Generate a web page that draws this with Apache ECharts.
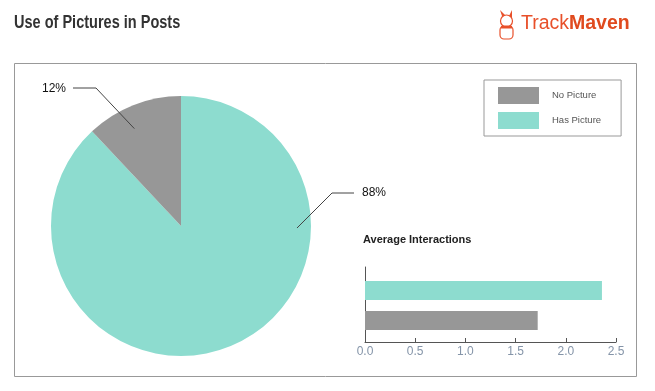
<!DOCTYPE html>
<html><head><meta charset="utf-8">
<script src="https://cdn.jsdelivr.net/npm/echarts@6/dist/echarts.min.js"></script>
<style>html,body{margin:0;padding:0;background:#fff}#c{width:655px;height:391px}</style>
</head><body><div id="c"></div>
<script>
const chartTitle = 'Use of Pictures in Posts';
const pieNames = ['Has Picture', 'No Picture'];
const pieValues = [88, 12];
const legendNames = ['No Picture', 'Has Picture'];
const barTitle = 'Average Interactions';
const barCategories = ['No Picture', 'Has Picture'];
const barValues = [1.72, 2.36];
const xTickLabels = ['0.0', '0.5', '1.0', '1.5', '2.0', '2.5'];

const GRAY = '#979797', TEAL = '#8ddccf';
const colorOf = { 'No Picture': GRAY, 'Has Picture': TEAL };
const chart = echarts.init(document.getElementById('c'), null, { renderer: 'canvas' });

const C = [181, 226], R = 130;
function polar(angDeg, d) { const a = angDeg * Math.PI / 180; return [C[0] + d * Math.cos(a), C[1] - d * Math.sin(a)]; }
const total = pieValues.reduce((a, b) => a + b, 0);
const pct = n => Math.round(pieValues[pieNames.indexOf(n)] / total * 100) + '%';
const pNo = polar(115.6, 108), pHas = polar(-1, 116);
const lineStyle = { stroke: '#444', lineWidth: 1, fill: null };
const tickMin = parseFloat(xTickLabels[0]), tickMax = parseFloat(xTickLabels[xTickLabels.length - 1]);
const tickStep = parseFloat(xTickLabels[1]) - tickMin;

const ORANGE = '#e8502a';
const graphic = [
  { type: 'rect', shape: { x: 14.5, y: 63.5, width: 622, height: 313 }, style: { fill: null, stroke: '#999', lineWidth: 1 }, silent: true },
  { type: 'text', x: 14, y: 23, scaleX: 0.83, z: 100, style: { text: chartTitle, font: 'bold 17.5px "Liberation Sans", sans-serif', fill: '#333', textVerticalAlign: 'middle' } },
  { type: 'text', left: 363, top: 234, style: { text: barTitle, font: 'bold 11px "Liberation Sans", sans-serif', fill: '#222' } },
  // logo
  { type: 'text', x: 521, y: 24, style: { text: '{a|Track}{b|Maven}', textVerticalAlign: 'middle', rich: { a: { font: '19.5px "Liberation Sans", sans-serif', fill: ORANGE }, b: { font: 'bold 19.5px "Liberation Sans", sans-serif', fill: '#e04a1e' } } } },
  { type: 'polygon', shape: { points: [[500, 10], [503, 19], [506, 16]] }, style: { fill: ORANGE } },
  { type: 'polygon', shape: { points: [[512, 10], [509, 16], [512, 19]] }, style: { fill: ORANGE } },
  { type: 'circle', shape: { cx: 506.5, cy: 21, r: 6 }, style: { fill: '#fff', stroke: ORANGE, lineWidth: 1.2 } },
  { type: 'rect', shape: { x: 500, y: 26, width: 13, height: 13, r: 4 }, style: { fill: '#fff', stroke: ORANGE, lineWidth: 1.2 } },
  { type: 'rect', shape: { x: 501, y: 26, width: 11, height: 2.5 }, style: { fill: ORANGE } },
  // pie labels
  { type: 'polyline', z: 100, shape: { points: [pNo, [96, 88], [73, 88]] }, style: lineStyle, silent: true },
  { type: 'text', z: 100, x: 66, y: 89, style: { text: pct('No Picture'), font: '12px "Liberation Sans", sans-serif', fill: '#111', textAlign: 'right', textVerticalAlign: 'middle' } },
  { type: 'polyline', z: 100, shape: { points: [pHas, [332, 193], [354, 193]] }, style: lineStyle, silent: true },
  { type: 'text', z: 100, x: 362, y: 193, style: { text: pct('Has Picture'), font: '12px "Liberation Sans", sans-serif', fill: '#111', textAlign: 'left', textVerticalAlign: 'middle' } }
];

const option = {
  animation: false,
  color: [TEAL, GRAY],
  legend: {
    data: legendNames, orient: 'vertical', left: 484, top: 80,
    padding: [7, 20, 7, 14], itemWidth: 41, itemHeight: 17, itemGap: 8,
    borderColor: '#999', borderWidth: 1, icon: 'rect', selectedMode: false,
    textStyle: { fontSize: 9.5, color: '#555', fontFamily: '"Liberation Sans", sans-serif', padding: [0, 0, 0, 8] }
  },
  grid: [
    { left: 365, right: 39, top: 267, bottom: 49 },
    { left: 365, right: 39, top: 275.5, height: 60 }
  ],
  xAxis: [
    {
      gridIndex: 0, type: 'value', min: tickMin, max: tickMax, interval: tickStep,
      axisLine: { show: true, lineStyle: { color: '#555', width: 1 } },
      axisTick: { show: true, inside: true, length: 4, lineStyle: { color: '#555' } },
      splitLine: { show: false },
      axisLabel: { formatter: v => xTickLabels[Math.round((v - tickMin) / tickStep)], color: '#8494a8', fontSize: 12, margin: 4, fontFamily: '"Liberation Sans", sans-serif' }
    },
    { gridIndex: 1, type: 'value', min: tickMin, max: tickMax, show: false }
  ],
  yAxis: [
    { gridIndex: 0, type: 'category', data: [''], axisLine: { show: true, lineStyle: { color: '#555', width: 1 } }, axisTick: { show: false }, axisLabel: { show: false } },
    { gridIndex: 1, type: 'category', data: barCategories, show: false }
  ],
  series: [
    {
      type: 'pie', center: C, radius: R, startAngle: 90, clockwise: true,
      label: { show: false }, labelLine: { show: false }, silent: true,
      data: pieNames.map((n, i) => ({ name: n, value: pieValues[i], itemStyle: { color: colorOf[n] } }))
    },
    {
      type: 'bar', xAxisIndex: 1, yAxisIndex: 1, barWidth: 19, silent: true,
      data: barCategories.map((c, i) => ({ value: barValues[i], itemStyle: { color: colorOf[c] } }))
    }
  ],
  graphic: graphic
};
chart.setOption(option);
</script>
</body></html>
